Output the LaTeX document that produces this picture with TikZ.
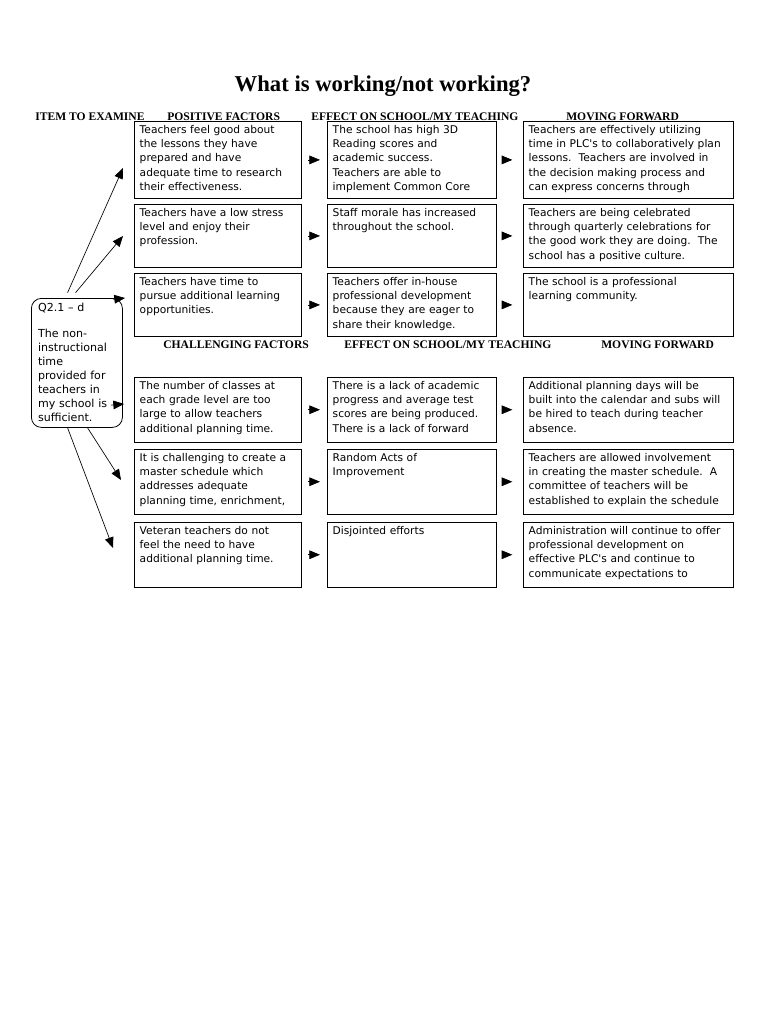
\documentclass[tikz,border=0pt]{standalone}
\usepackage{fontspec}
\setmainfont{Liberation Serif}
\newfontfamily\boxfont{DejaVu Sans}
\usetikzlibrary{arrows.meta,positioning}

\begin{document}
\begin{tikzpicture}[
    x=0.75pt, y=-0.75pt,
    cell/.style={rectangle, draw, line width=0.6pt, anchor=north west, align=left,
        inner xsep=4pt, inner ysep=2pt, text height=7pt,
        font=\boxfont\fontsize{8}{10.7}\selectfont},
    colA/.style={text width=117.25pt},
    colB/.style={text width=118.75pt},
    colC/.style={text width=149.5pt},
    rowTall/.style={text depth=46.75pt},
    rowMid/.style={text depth=36.25pt},
    rowLow/.style={text depth=37.5pt},
    head/.style={anchor=base west, inner sep=0pt, font=\bfseries\fontsize{8.7}{10}\selectfont},
    link/.style={-{Triangle[length=8pt, width=6.5pt]}, line width=0.5pt},
    flow/.style={link, shorten <=4.5pt, shorten >=5.25pt}
]
    \useasboundingbox (0,0) rectangle (768,1024);
    \fill[white] (0,0) rectangle (768,1024);

    % Title
    \node[anchor=base, font=\bfseries\fontsize{17}{20}\selectfont] (title) at (383,91) {What is working/not working?};

    % Headings, positive side
    \node[head] (hItem) at (35,120.5) {ITEM TO EXAMINE};
    \node[head] (hPos) at (167,120.5) {POSITIVE FACTORS};
    \node[head] (hEff) at (311,120.5) {EFFECT ON SCHOOL/MY TEACHING};
    \node[head] (hMove) at (566,120.5) {MOVING FORWARD};

    % Headings, challenging side
    \node[head] (hChal) at (163,348) {CHALLENGING FACTORS};
    \node[head] (hEffB) at (344,348) {EFFECT ON SCHOOL/MY TEACHING};
    \node[head] (hMoveB) at (601,348) {MOVING FORWARD};

    % Item to examine
    \node[draw, line width=0.6pt, rounded corners=7.5pt, anchor=north west, align=left,
        inner xsep=5pt, inner ysep=2pt, text width=58.25pt, text height=7.75pt, text depth=85pt,
        font=\boxfont\fontsize{8.3}{10.5}\selectfont] (item) at (31,298)
        {Q2.1 – d\\[9pt]The non-\\instructional\\time\\provided for\\teachers in\\my school is\\sufficient.};

    % Positive factors
    \node[cell, colA, rowTall] (pf1) at (134,121) {Teachers feel good about\\the lessons they have\\prepared and have\\adequate time to research\\their effectiveness.};
    \node[cell, colA, rowMid] (pf2) at (134,204) {Teachers have a low stress\\level and enjoy their\\profession.};
    \node[cell, colA, rowMid] (pf3) at (134,273) {Teachers have time to\\pursue additional learning\\opportunities.};

    \node[cell, colB, rowTall] (pe1) at (327,121) {The school has high 3D\\Reading scores and\\academic success.\\Teachers are able to\\implement Common Core};
    \node[cell, colB, rowMid] (pe2) at (327,204) {Staff morale has increased\\throughout the school.};
    \node[cell, colB, rowMid] (pe3) at (327,273) {Teachers offer in-house\\professional development\\because they are eager to\\share their knowledge.};

    \node[cell, colC, rowTall] (pm1) at (523,121) {Teachers are effectively utilizing\\time in PLC's to collaboratively plan\\lessons.\ \ Teachers are involved in\\the decision making process and\\can express concerns through};
    \node[cell, colC, rowMid] (pm2) at (523,204) {Teachers are being celebrated\\through quarterly celebrations for\\the good work they are doing.\ \ The\\school has a positive culture.};
    \node[cell, colC, rowMid] (pm3) at (523,273) {The school is a professional\\learning community.};

    % Challenging factors
    \node[cell, colA, rowLow] (cf1) at (134,377) {The number of classes at\\each grade level are too\\large to allow teachers\\additional planning time.};
    \node[cell, colA, rowLow] (cf2) at (134,449) {It is challenging to create a\\master schedule which\\addresses adequate\\planning time, enrichment,};
    \node[cell, colA, rowLow] (cf3) at (134,522) {Veteran teachers do not\\feel the need to have\\additional planning time.};

    \node[cell, colB, rowLow] (ce1) at (327,377) {There is a lack of academic\\progress and average test\\scores are being produced.\\There is a lack of forward};
    \node[cell, colB, rowLow] (ce2) at (327,449) {Random Acts of\\Improvement};
    \node[cell, colB, rowLow] (ce3) at (327,522) {Disjointed efforts};

    \node[cell, colC, rowLow] (cm1) at (523,377) {Additional planning days will be\\built into the calendar and subs will\\be hired to teach during teacher\\absence.};
    \node[cell, colC, rowLow] (cm2) at (523,449) {Teachers are allowed involvement\\in creating the master schedule.\ \ A\\committee of teachers will be\\established to explain the schedule};
    \node[cell, colC, rowLow] (cm3) at (523,522) {Administration will continue to offer\\professional development on\\effective PLC's and continue to\\communicate expectations to};

    % Arrow tips from the item
    \coordinate (t1) at (123,168);
    \coordinate (t2) at (123,236);
    \coordinate (t3) at (125,298);
    \coordinate (t4) at (124,404);
    \coordinate (t5) at (121,480);
    \coordinate (t6) at (113,548);

    \draw[link] ([xshift=-7pt, yshift=4pt]item.north) -- (t1);
    \draw[link] ([xshift=-1pt, yshift=4pt]item.north) -- (t2);
    \draw[link] ([xshift=-7pt, yshift=-1pt]item.north east) -- (t3);
    \draw[link] ([xshift=-9pt, yshift=17pt]item.south east) -- (t4);
    \draw[link] ([xshift=8pt]item.south) -- (t5);
    \draw[link] ([xshift=-7pt]item.south) -- (t6);

    % Row arrows
    \draw[flow] (pf1) -- (pe1);
    \draw[flow] (pf2) -- (pe2);
    \draw[flow] (pf3) -- (pe3);
    \draw[flow] (cf1) -- (ce1);
    \draw[flow] (cf2) -- (ce2);
    \draw[flow] (cf3) -- (ce3);

    \draw[flow, shorten >=8pt] (pe1) -- (pm1);
    \draw[flow, shorten >=8pt] (pe2) -- (pm2);
    \draw[flow, shorten >=8pt] (pe3) -- (pm3);
    \draw[flow, shorten >=8pt] (ce1) -- (cm1);
    \draw[flow, shorten >=8pt] (ce2) -- (cm2);
    \draw[flow, shorten >=8pt] (ce3) -- (cm3);

\end{tikzpicture}
\end{document}
